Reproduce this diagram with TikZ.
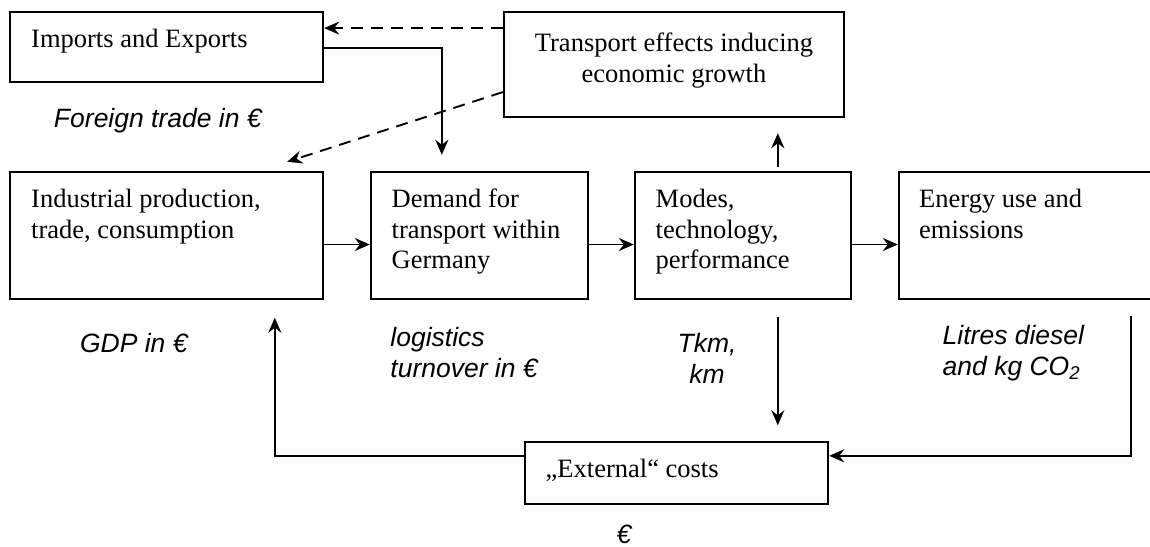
\documentclass[tikz,border=0pt]{standalone}
\usepackage{fontspec}
\setmainfont{Liberation Serif}
\newfontfamily\lblfont{Liberation Sans}
\usetikzlibrary{arrows.meta,calc}
\begin{document}
\begin{tikzpicture}[x=0.5pt,y=-0.5pt,
  box/.style 2 args={draw, line width=1.2pt, inner sep=0pt, minimum width=#1*0.5pt, minimum height=#2*0.5pt},
  boxtxt/.style={anchor=north west, inner sep=0pt, align=left, font=\fontsize{13.25}{15.25}\selectfont},
  lbl/.style={anchor=north west, inner sep=0pt, align=left, font=\lblfont\itshape\fontsize{13.25}{15.5}\selectfont},
  conn/.style={line width=0.95pt, -{Stealth[length=7.5pt,width=6.5pt,inset=2.5pt]}},
  dashline/.style={dash pattern=on 6pt off 4pt}]
\useasboundingbox (0,0) rectangle (1150,546);
\fill[white] (0,0) rectangle (1150,546);
\clip (0,0) rectangle (1150,546);

% boxes
\node[box={313}{70}]  (imp) at (166.5,47) {};
\node[box={340}{105}] (trn) at (674,64.5) {};
\node[box={313}{127}] (ind) at (166.5,235.5) {};
\node[box={217}{127}] (dem) at (479.5,235.5) {};
\node[box={216}{127}] (mod) at (743,235.5) {};
\node[box={266}{127}] (ene) at (1032,235.5) {};
\node[box={303}{62}]  (ext) at (676.5,473) {};

% box texts
\node[boxtxt] (impt) at ($(imp.north west)+(22,18)$) {Imports and Exports};
\node[boxtxt, anchor=north, align=center] (trnt) at ($(trn.north)+(0,22)$) {Transport effects inducing\\economic growth};
\node[boxtxt] (indt) at ($(ind.north west)+(22,18)$) {Industrial production,\\trade, consumption};
\node[boxtxt] (demt) at ($(dem.north west)+(21.5,18)$) {Demand for\\transport within\\Germany};
\node[boxtxt] (modt) at ($(mod.north west)+(21.5,18)$) {Modes,\\technology,\\performance};
\node[boxtxt] (enet) at ($(ene.north west)+(21,18)$) {Energy use and\\emissions};
\node[boxtxt] (extt) at ($(ext.north west)+(21.5,17.5)$) {„External“ costs};

% labels
\node[lbl] (l1) at (53.6,108) {Foreign trade in €};
\node[lbl] (l2) at (79.6,332.5) {GDP in €};
\node[lbl] (l3) at (390,327) {logistics\\turnover in €};
\node[lbl, anchor=north, align=center] (l4) at (707,332.7) {Tkm,\\km};
\node[lbl] (l5) at (942.3,325) {Litres diesel\\and kg CO\textsubscript{2}};
\node[lbl, anchor=center] (l6) at (624,534) {€};

% connectors
\draw[conn, dashline] ($(trn.north west)+(0,17.3)$) -- ($(imp.north east)+(0,17.3)$);
\draw[conn] ($(imp.north east)+(0,37.3)$) -| ($(dem.north west)+(72,-16)$);
\draw[conn, dashline] ($(trn.north west)+(0,81.3)$) -- ($(ind.north east)+(-37,-9)$);
\draw[conn] ($(ind.east)+(0,9)$) -- ($(dem.west)+(0,9)$);
\draw[conn] ($(dem.east)+(0,9)$) -- ($(mod.west)+(0,9)$);
\draw[conn] ($(mod.east)+(0,9)$) -- ($(ene.west)+(0,9)$);
\draw[conn] ($(mod.north west)+(144,-4)$) -- ($(trn.south west)+(275,15)$);
\draw[conn] ($(mod.south west)+(144,16.5)$) -- ($(ext.north west)+(254,-15.5)$);
\draw[conn] ($(ene.south west)+(233,16)$) |- ($(ext.north east)+(0,15)$);
\draw[conn] ($(ext.north west)+(0,15)$) -| ($(ind.south west)+(266,17.5)$);
\end{tikzpicture}
\end{document}
